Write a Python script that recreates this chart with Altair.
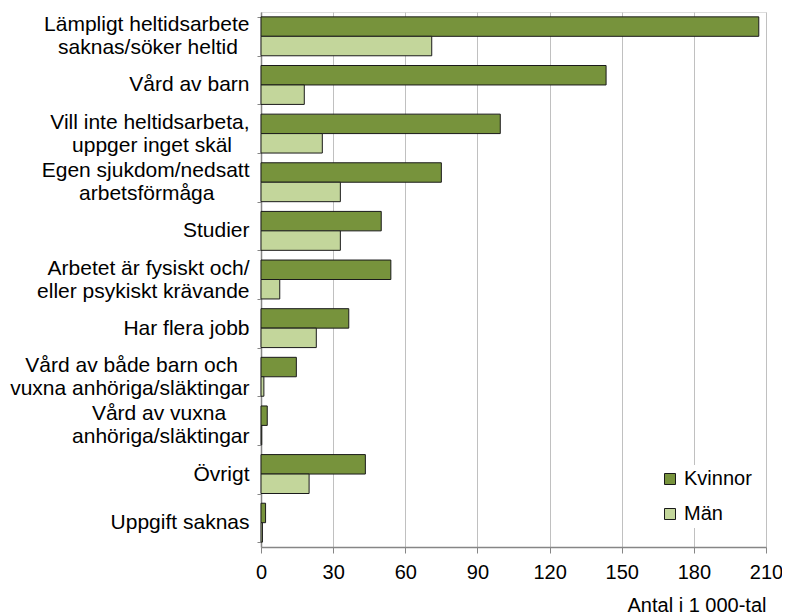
import altair as alt
import pandas as pd

# Non-breaking spaces followed by a word joiner keep the shorter line of a
# two-line label visually centred under the longer one (as in the original).
def pad(n):
    return "\u00a0" * n + "\u2060"

categories = [
    "Lämpligt heltidsarbete\nsaknas/söker heltid" + pad(2),
    "Vård av barn",
    "Vill inte heltidsarbeta,\nuppger inget skäl" + pad(3),
    "Egen sjukdom/nedsatt\narbetsförmåga" + pad(6),
    "Studier",
    "Arbetet är fysiskt och/\neller psykiskt krävande",
    "Har flera jobb",
    "Vård av både barn och" + pad(2) + "\nvuxna anhöriga/släktingar",
    "Vård av vuxna" + pad(4) + "\nanhöriga/släktingar",
    "Övrigt",
    "Uppgift saknas",
]
kvinnor = [207, 143.5, 99.5, 75, 50, 54, 36.5, 14.7, 2.6, 43.4, 1.9]
man = [71, 18, 25.5, 33, 33, 7.8, 23, 1.2, 0.3, 20, 0.6]
series = ["Kvinnor", "Män"]
colors = ["#77933C", "#C3D69B"]
ticks = [0, 30, 60, 90, 120, 150, 180, 210]

rows = []
for c, k, m in zip(categories, kvinnor, man):
    rows.append({"kat": c, "kon": series[0], "varde": k})
    rows.append({"kat": c, "kon": series[1], "varde": m})
df = pd.DataFrame(rows)

FONT = "Liberation Sans"

chart = (
    alt.Chart(df)
    .mark_bar(stroke="#1a1a1a", strokeWidth=1)
    .encode(
        y=alt.Y(
            "kat:N",
            sort=categories,
            title=None,
            scale=alt.Scale(paddingInner=0.2, paddingOuter=0.1),
            axis=alt.Axis(
                labelExpr="split(datum.label, '\\n')",
                labelFont=FONT,
                labelFontSize=21,
                labelColor="#000000",
                labelLineHeight=23,
                labelAlign="right",
                labelBaseline="middle",
                labelOffset={
                    "condition": {"test": "indexof(datum.label, '\\n') >= 0", "value": -11.5},
                    "value": 0,
                },
                labelPadding=8,
                tickBand="extent",
                tickSize=4,
                tickColor="#868686",
                domainColor="#868686",
                domainWidth=1.5,
                labelLimit=400,
            ),
        ),
        yOffset=alt.YOffset("kon:N", sort=series, scale=alt.Scale(paddingInner=0, paddingOuter=0)),
        x=alt.X(
            "varde:Q",
            scale=alt.Scale(domain=[0, 210], nice=False),
            axis=alt.Axis(
                values=ticks,
                title="Antal i 1 000-tal",
                titleFont=FONT,
                titleFontSize=20,
                titleFontWeight="normal",
                titleColor="#000000",
                titleAnchor="end",
                titlePadding=13,
                labelFont=FONT,
                labelFontSize=20,
                labelColor="#000000",
                labelPadding=9,
                tickSize=6,
                tickColor="#868686",
                domainColor="#868686",
                domainWidth=1.5,
                gridColor="#C0C0C0",
                gridWidth=1,
                labelFlush=False,
            ),
        ),
        color=alt.Color(
            "kon:N",
            sort=series,
            scale=alt.Scale(domain=series, range=colors),
            legend=alt.Legend(
                title=None,
                orient="none",
                legendX=395,
                legendY=453,
                symbolType="square",
                symbolSize=121,
                symbolStrokeColor="#1a1a1a",
                symbolStrokeWidth=1,
                labelFont=FONT,
                labelFontSize=20,
                labelColor="#000000",
                labelOffset=4,
                rowPadding=15,
                padding=4,
                fillColor="white",
            ),
        ),
    )
    .properties(
        width=505,
        height=535,
        autosize=alt.AutoSizeParams(type="none"),
        padding={"left": 253, "top": 4, "right": 16, "bottom": 70},
    )
    .configure_view(stroke="#595959", strokeWidth=1)
    .configure(background="white")
)

chart.save("out.html", embed_options={"renderer": "svg", "actions": False})
